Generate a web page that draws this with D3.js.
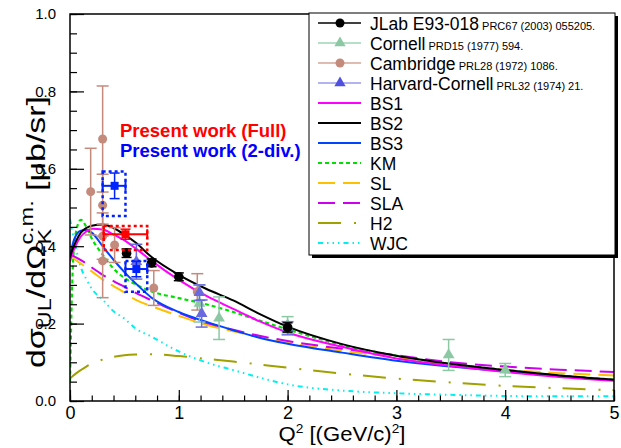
<!DOCTYPE html>
<html>
<head>
<meta charset="utf-8">
<script src="https://cdn.jsdelivr.net/npm/d3@7"></script>
<style>
  body { margin: 0; background: #fff; }
  text { font-family: "Liberation Sans", Arial, Helvetica, sans-serif; }
</style>
</head>
<body>
<svg id="chart" width="621" height="448"></svg>
<script>
// ---- model curves ----
const modelQ2 = [0, 0.02, 0.05, 0.1, 0.15, 0.2, 0.3, 0.4, 0.5, 0.6, 0.75, 1.0, 1.25, 1.5, 1.75, 2.0, 2.5, 3.0, 3.5, 4.0, 4.5, 5.0];
const bs1 = [0.36, 0.38, 0.40, 0.425, 0.438, 0.445, 0.443, 0.43, 0.415, 0.395, 0.362, 0.313, 0.272, 0.238, 0.205, 0.177, 0.14, 0.11, 0.091, 0.075, 0.062, 0.052];
const bs2 = [0.37, 0.39, 0.41, 0.435, 0.447, 0.453, 0.456, 0.447, 0.43, 0.41, 0.372, 0.326, 0.29, 0.26, 0.224, 0.192, 0.147, 0.117, 0.096, 0.08, 0.066, 0.055];
const bs3 = [0.37, 0.40, 0.425, 0.44, 0.442, 0.435, 0.40, 0.365, 0.333, 0.305, 0.267, 0.23, 0.205, 0.183, 0.163, 0.148, 0.125, 0.104, 0.089, 0.076, 0.064, 0.054];
const km  = [0.05, 0.30, 0.43, 0.468, 0.45, 0.42, 0.378, 0.342, 0.318, 0.302, 0.283, 0.266, 0.25, 0.23, 0.207, 0.185, 0.145, 0.117, 0.096, 0.08, 0.066, 0.055];
const sl  = [0.375, 0.372, 0.365, 0.355, 0.345, 0.335, 0.314, 0.297, 0.28, 0.262, 0.245, 0.22, 0.197, 0.18, 0.165, 0.15, 0.13, 0.113, 0.092, 0.081, 0.072, 0.066];
const sla = [0.378, 0.376, 0.372, 0.364, 0.355, 0.345, 0.326, 0.31, 0.295, 0.28, 0.26, 0.228, 0.202, 0.184, 0.168, 0.155, 0.135, 0.118, 0.1, 0.089, 0.081, 0.075];
const h2  = [0.058, 0.063, 0.07, 0.08, 0.089, 0.097, 0.107, 0.114, 0.118, 0.12, 0.121, 0.116, 0.109, 0.102, 0.094, 0.086, 0.071, 0.058, 0.048, 0.039, 0.033, 0.028];
const wjc = [0.47, 0.44, 0.40, 0.345, 0.315, 0.29, 0.262, 0.232, 0.213, 0.188, 0.166, 0.128, 0.1, 0.08, 0.06, 0.043, 0.027, 0.02, 0.016, 0.013, 0.012, 0.012];

// ---- data points ----
const jlabQ2 = [0.52, 0.75, 1.00, 2.00];
const jlabVal = [0.382, 0.357, 0.321, 0.190];
const jlabErr = [0.011, 0.010, 0.010, 0.012];

const cornellQ2 = [1.19, 1.37, 2.00, 3.48, 4.00];
const cornellVal = [0.252, 0.214, 0.197, 0.119, 0.080];
const cornellErr = [0.048, 0.055, 0.021, 0.04, 0.017];

const cambQ2 = [0.19, 0.30, 0.30, 0.30, 0.30, 0.41, 0.77, 1.17];
const cambVal = [0.541, 0.677, 0.506, 0.426, 0.362, 0.403, 0.292, 0.282];
const cambErr = [0.112, 0.137, 0.08, 0.06, 0.095, 0.045, 0.045, 0.047];

const hcQ2 = [0.61, 1.19, 1.21, 2.00];
const hcVal = [0.36, 0.28, 0.226, 0.188];
const hcErr = [0.045, 0.02, 0.035, 0.017];

const fullQ2 = [0.51], fullLo = [0.31], fullHi = [0.71];
const fullVal = [0.431], fullErr = [0.013];
const fullSysLo = [0.39], fullSysHi = [0.452];

const divQ2 = [0.41, 0.61], divLo = [0.30, 0.51], divHi = [0.51, 0.71];
const divVal = [0.556, 0.341], divErr = [0.033, 0.02];
const divSysLo = [0.478, 0.282], divSysHi = [0.593, 0.362];

const legendNames = ['JLab E93-018', 'Cornell', 'Cambridge', 'Harvard-Cornell', 'BS1', 'BS2', 'BS3', 'KM', 'SL', 'SLA', 'H2', 'WJC'];
const legendRefs = ['PRC67 (2003) 055205.', 'PRD15 (1977) 594.', 'PRL28 (1972) 1086.', 'PRL32 (1974) 21.', '', '', '', '', '', '', '', ''];

const xTicks = [0, 1, 2, 3, 4, 5];
const yTicks = [0, 0.2, 0.4, 0.6, 0.8, 1.0];

// ---- setup ----
const svg = d3.select('#chart');
const W = 621, H = 448;
const L = 70, R = 614, T = 14, B = 401;

const x = d3.scaleLinear().domain([0, 5]).range([L, R]);
const y = d3.scaleLinear().domain([0, 1]).range([B, T]);

svg.append('rect').attr('width', W).attr('height', H).attr('fill', '#fff');
svg.append('clipPath').attr('id', 'clip')
  .append('rect').attr('x', L).attr('y', T).attr('width', R - L).attr('height', B - T);

// ---- model curves ----
const models = [
  { name: 'H2', vals: h2, color: '#a0a000', dash: '23,13,2,12', w: 2 },
  { name: 'WJC', vals: wjc, color: '#00f0f0', dash: '5,4,1.5,4,1.5,4,1.5,4', w: 2 },
  { name: 'KM', vals: km, color: '#00e000', dash: '4,3', w: 2.2 },
  { name: 'SL', vals: sl, color: '#ffc000', dash: '17,8', w: 2 },
  { name: 'SLA', vals: sla, color: '#cc00ee', dash: '17,8', w: 2 },
  { name: 'BS3', vals: bs3, color: '#0044ff', dash: null, w: 2 },
  { name: 'BS1', vals: bs1, color: '#ff00ff', dash: null, w: 2 },
  { name: 'BS2', vals: bs2, color: '#000000', dash: null, w: 2 }
];
const styleByName = {};
models.forEach(m => styleByName[m.name] = m);

const line = d3.line().x(d => x(d[0])).y(d => y(d[1])).curve(d3.curveMonotoneX);
const curves = svg.append('g').attr('clip-path', 'url(#clip)');
models.forEach(m => {
  curves.append('path')
    .datum(modelQ2.map((q, i) => [q, m.vals[i]]))
    .attr('d', line)
    .attr('fill', 'none')
    .attr('stroke', m.color)
    .attr('stroke-width', m.w)
    .attr('stroke-dasharray', m.dash);
});

// ---- error bar helpers ----
function vErr(g, qs, vs, es, color, cap) {
  qs.forEach((q, i) => {
    const cx = x(q), y1 = y(vs[i] + es[i]), y2 = y(vs[i] - es[i]);
    g.append('line').attr('x1', cx).attr('x2', cx).attr('y1', y1).attr('y2', y2)
      .attr('stroke', color).attr('stroke-width', 1.5);
    [y1, y2].forEach(yy => g.append('line').attr('x1', cx - cap).attr('x2', cx + cap)
      .attr('y1', yy).attr('y2', yy).attr('stroke', color).attr('stroke-width', 1.5));
  });
}

const pts = svg.append('g');

const cambColor = '#c48a7c', cornColor = '#8cc8a4', hcColor = '#6a6ae0';
vErr(pts, cambQ2, cambVal, cambErr, cambColor, 6);
pts.selectAll(null).data(cambQ2).join('circle')
  .attr('cx', d => x(d)).attr('cy', (d, i) => y(cambVal[i])).attr('r', 4.5).attr('fill', cambColor);

vErr(pts, cornellQ2, cornellVal, cornellErr, cornColor, 6);
pts.selectAll(null).data(cornellQ2).join('path')
  .attr('d', d3.symbol(d3.symbolTriangle, 60))
  .attr('transform', (d, i) => `translate(${x(d)},${y(cornellVal[i])})`).attr('fill', cornColor);

vErr(pts, hcQ2, hcVal, hcErr, hcColor, 6);
pts.selectAll(null).data(hcQ2).join('path')
  .attr('d', d3.symbol(d3.symbolTriangle, 60))
  .attr('transform', (d, i) => `translate(${x(d)},${y(hcVal[i])})`).attr('fill', hcColor);

vErr(pts, jlabQ2, jlabVal, jlabErr, '#000', 5);
pts.selectAll(null).data(jlabQ2).join('circle')
  .attr('cx', d => x(d)).attr('cy', (d, i) => y(jlabVal[i])).attr('r', 4.8).attr('fill', '#000');

// ---- present work ----
function presentWork(qs, lo, hi, vs, es, sysLo, sysHi, color) {
  const g = svg.append('g');
  qs.forEach((q, i) => {
    g.append('rect')
      .attr('x', x(lo[i])).attr('y', y(sysHi[i]))
      .attr('width', x(hi[i]) - x(lo[i])).attr('height', y(sysLo[i]) - y(sysHi[i]))
      .attr('fill', 'none').attr('stroke', color).attr('stroke-width', 2.5).attr('stroke-dasharray', '3,3');
    const cx = x(q), cy = y(vs[i]);
    g.append('line').attr('x1', x(lo[i])).attr('x2', x(hi[i])).attr('y1', cy).attr('y2', cy)
      .attr('stroke', color).attr('stroke-width', 2);
    [x(lo[i]), x(hi[i])].forEach(xx => g.append('line').attr('x1', xx).attr('x2', xx)
      .attr('y1', cy - 5).attr('y2', cy + 5).attr('stroke', color).attr('stroke-width', 2));
    vErr(g, [q], [vs[i]], [es[i]], color, 5);
    g.append('rect').attr('x', cx - 4).attr('y', cy - 4).attr('width', 8).attr('height', 8).attr('fill', color);
  });
}
presentWork(fullQ2, fullLo, fullHi, fullVal, fullErr, fullSysLo, fullSysHi, '#ff0000');
presentWork(divQ2, divLo, divHi, divVal, divErr, divSysLo, divSysHi, '#0022ff');

svg.append('text').attr('x', 120).attr('y', 136.5).attr('fill', '#ff0000')
  .attr('font-size', 18.5).attr('font-weight', 'bold').text('Present work (Full)');
svg.append('text').attr('x', 120).attr('y', 157).attr('fill', '#0000ff')
  .attr('font-size', 18.5).attr('font-weight', 'bold').text('Present work (2-div.)');

// ---- axes ----
const xMinor = d3.range(0, 5.001, 0.2);
const yMinor = d3.range(0, 1.001, 0.05);
const axes = svg.append('g');

const xAxis = axes.append('g').attr('transform', `translate(0,${B})`)
  .call(d3.axisBottom(x).tickValues(xTicks).tickSize(-11).tickPadding(5).tickFormat(d3.format('d')));
axes.append('g').attr('transform', `translate(0,${B})`)
  .call(d3.axisBottom(x).tickValues(xMinor).tickSize(-5.5).tickFormat(''));
const yAxis = axes.append('g').attr('transform', `translate(${L},0)`)
  .call(d3.axisLeft(y).tickValues(yTicks).tickSize(-14).tickPadding(14).tickFormat(d3.format('.1f')));
axes.append('g').attr('transform', `translate(${L},0)`)
  .call(d3.axisLeft(y).tickValues(yMinor).tickSize(-7).tickFormat(''));
axes.selectAll('.domain').remove();
axes.selectAll('.tick line').attr('stroke', '#000').attr('stroke-width', 1.2);
xAxis.selectAll('text').attr('font-size', 18).attr('fill', '#000')
  .attr('font-family', '"Liberation Sans", Arial, sans-serif');
yAxis.selectAll('text').attr('font-size', 15).attr('fill', '#000')
  .attr('font-family', '"Liberation Sans", Arial, sans-serif');

svg.append('rect').attr('x', L).attr('y', T).attr('width', R - L).attr('height', B - T)
  .attr('fill', 'none').attr('stroke', '#000').attr('stroke-width', 1.5);

// ---- axis titles (rich text, pieces measured in place) ----
function richText(g, pieces, target) {
  const inner = g.append('g');
  let cur = 0, stackStart = 0, stackW = 0;
  pieces.forEach(p => {
    const t = inner.append('text').attr('font-size', p.s).attr('y', p.dy || 0)
      .attr('xml:space', 'preserve').text(p.t);
    const w = t.node().getComputedTextLength();
    if (p.stack === 'start') { stackStart = cur; stackW = w; t.attr('x', cur); }
    else if (p.stack === 'end') { t.attr('x', stackStart); cur = stackStart + Math.max(stackW, w); }
    else { t.attr('x', cur); cur += w; }
  });
  const k = target ? target / cur : 1;
  inner.attr('transform', `scale(${k},1) translate(${-cur / 2},0)`);
}

const xTitle = svg.append('g').attr('transform', `translate(342,441)`);
richText(xTitle, [
  { t: 'Q', s: 21 }, { t: '2', s: 13, dy: -8 }, { t: '\u00a0[(GeV/c)', s: 21 }, { t: '2', s: 13, dy: -8 }, { t: ']', s: 21 }
], 127);

const yTitle = svg.append('g').attr('transform', `translate(45,232) rotate(-90)`);
richText(yTitle, [
  { t: 'dσ', s: 26 }, { t: 'UL', s: 18, dy: 6 }, { t: '/dΩ', s: 26 },
  { t: 'K', s: 18, dy: 6, stack: 'start' }, { t: 'c.m.', s: 18, dy: -12, stack: 'end' },
  { t: '\u00a0[μb/sr]', s: 26 }
], 272);

// ---- legend ----
const lg = svg.append('g');
const lgX = 309, lgY = 13, lgW = 306, lgH = 242;
lg.append('rect').attr('x', lgX + 3).attr('y', lgY + 3).attr('width', lgW).attr('height', lgH).attr('fill', '#000');
lg.append('rect').attr('x', lgX).attr('y', lgY).attr('width', lgW).attr('height', lgH)
  .attr('fill', '#fff').attr('stroke', '#000').attr('stroke-width', 1);

const dataStyles = [
  { color: '#000', line: '#000', marker: 'circle' },
  { color: cornColor, line: '#9cd4b4', marker: 'tri' },
  { color: cambColor, line: '#d4a498', marker: 'circle' },
  { color: '#5050e0', line: '#9a9aee', marker: 'tri' }
];

legendNames.forEach((name, i) => {
  const cy = 23 + i * 20;
  const row = lg.append('g');
  if (i < 4) {
    const st = dataStyles[i];
    row.append('line').attr('x1', 318).attr('x2', 361).attr('y1', cy).attr('y2', cy)
      .attr('stroke', st.line).attr('stroke-width', 1.5);
    if (st.marker === 'circle') row.append('circle').attr('cx', 340).attr('cy', cy).attr('r', 4.5).attr('fill', st.color);
    else row.append('path').attr('d', d3.symbol(d3.symbolTriangle, 55)).attr('transform', `translate(340,${cy})`).attr('fill', st.color);
  } else {
    const m = styleByName[name];
    row.append('line').attr('x1', 318).attr('x2', 361).attr('y1', cy).attr('y2', cy)
      .attr('stroke', m.color).attr('stroke-width', m.w).attr('stroke-dasharray', m.dash);
  }
  const t = row.append('text').attr('x', 370).attr('y', cy + 6.5).attr('font-size', 17.5).attr('fill', '#000');
  t.append('tspan').text(name);
  if (legendRefs[i]) t.append('tspan').attr('font-size', 11).text('\u00a0' + legendRefs[i]);
});
</script>
</body>
</html>
